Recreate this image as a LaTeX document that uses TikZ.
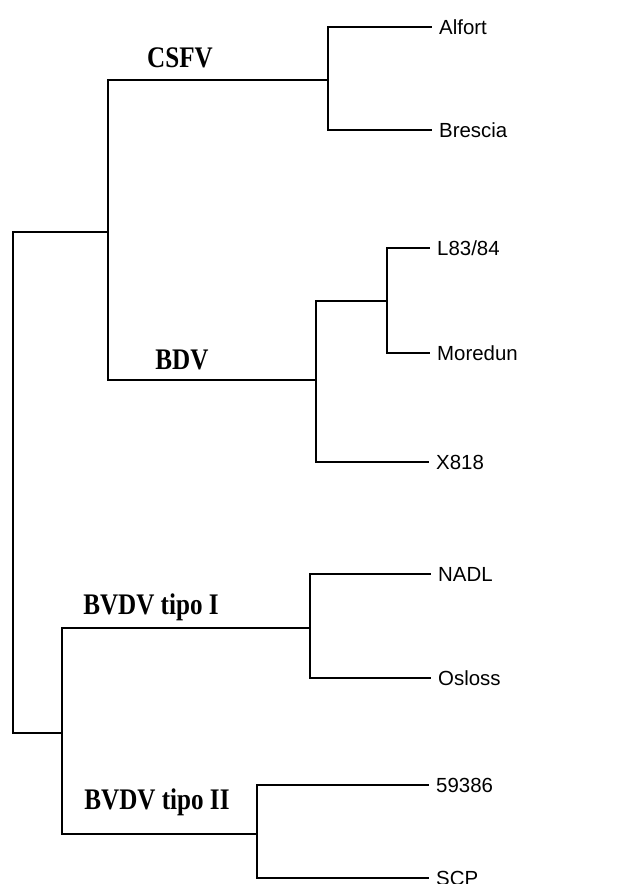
\documentclass[tikz,border=0pt]{standalone}
\usepackage{fontspec}
\setmainfont{Liberation Serif}
\setsansfont{Liberation Sans}
\newfontfamily\cladefont[FakeStretch=0.84]{Liberation Serif}
\usetikzlibrary{positioning}
\tikzset{
  branch/.style={line width=2.2bp,line cap=rect},
  leaf/.style={anchor=west,inner xsep=8bp,inner ysep=0pt,
               font=\sffamily\fontsize{20.5}{20.5}\selectfont,
               text height=14bp,text depth=0pt},
  clade/.style={inner sep=0pt,font=\cladefont\bfseries\fontsize{30}{30}\selectfont},
}
\begin{document}
\begin{tikzpicture}[x=1bp,y=-1bp]
  \useasboundingbox (0,0) rectangle (621,884);
  % internal nodes: (x of the bar, y where the parent joins)
  \coordinate (root)  at (13,482);
  \coordinate (pesti) at (108,232);
  \coordinate (csfv)  at (328,80);
  \coordinate (bdv)   at (316,380);
  \coordinate (lmo)   at (387,301);
  \coordinate (bvdv)  at (62,733);
  \coordinate (bvI)   at (310,628);
  \coordinate (bvII)  at (257,834);
  % leaves
  \node[leaf] (alfort)  at (431,27)  {Alfort};
  \node[leaf] (brescia) at (431,130) {Brescia};
  \node[leaf] (l83)     at (429,248) {L83/84};
  \node[leaf] (moredun) at (429,353) {Moredun};
  \node[leaf] (x818)    at (428,462) {X818};
  \node[leaf] (nadl)    at (430,574) {NADL};
  \node[leaf] (osloss)  at (430,678) {Osloss};
  \node[leaf] (s59386)  at (428,785) {59386};
  \node[leaf] (scp)     at (428,878) {SCP};
  % clade labels
  \node[clade] (lcsfv) at (180,58)  {CSFV};
  \node[clade] (lbdv)  at (182,360) {BDV};
  \node[clade] (lbvI)  at (151,607) {BVDV tipo I};
  \node[clade] (lbvII) at (157,802) {BVDV tipo II};
  % branches
  \draw[branch] (root) |- (pesti);
  \draw[branch] (root) |- (bvdv);
  \draw[branch] (pesti) |- (csfv);
  \draw[branch] (pesti) |- (bdv);
  \draw[branch] (csfv) |- (alfort.west);
  \draw[branch] (csfv) |- (brescia.west);
  \draw[branch] (bdv) |- (lmo);
  \draw[branch] (bdv) |- (x818.west);
  \draw[branch] (lmo) |- (l83.west);
  \draw[branch] (lmo) |- (moredun.west);
  \draw[branch] (bvdv) |- (bvI);
  \draw[branch] (bvdv) |- (bvII);
  \draw[branch] (bvI) |- (nadl.west);
  \draw[branch] (bvI) |- (osloss.west);
  \draw[branch] (bvII) |- (s59386.west);
  \draw[branch] (bvII) |- (scp.west);
\end{tikzpicture}
\end{document}
